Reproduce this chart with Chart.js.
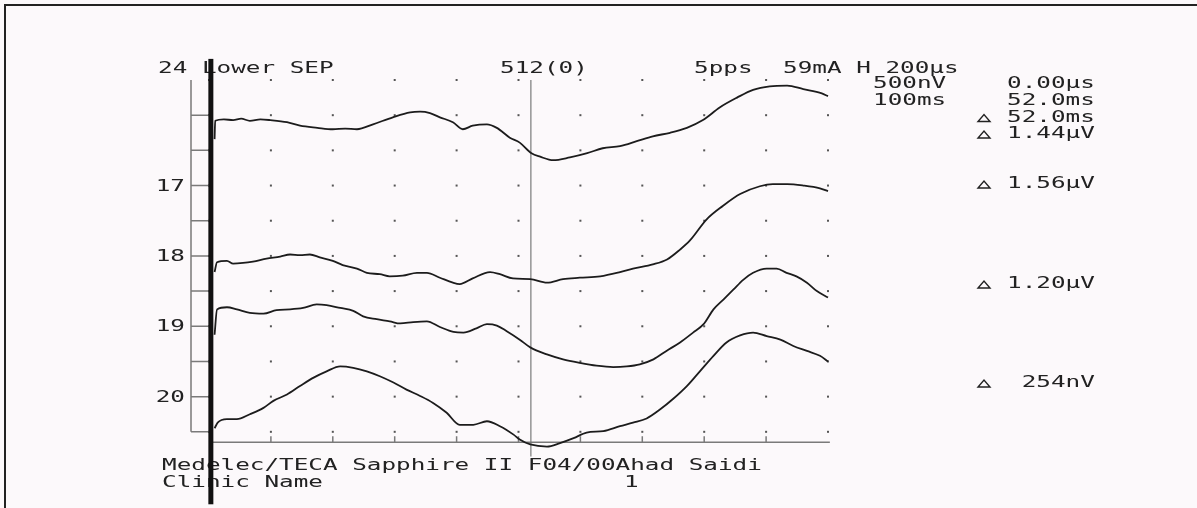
<!DOCTYPE html>
<html>
<head>
<meta charset="utf-8">
<title>24 Lower SEP</title>
<script src="https://cdn.jsdelivr.net/npm/chart.js@4.4.0/dist/chart.umd.min.js"></script>
<style>
html, body { margin: 0; padding: 0; background: #fcf9fb; }
#wrap { position: relative; width: 1197px; height: 508px; }
</style>
</head>
<body>
<div id="wrap"><canvas id="sepChart" width="1197" height="508"></canvas></div>
<script>
// Traces: [time in ms, trace position]
const trace1 = [[0.9,16.34],[1.0,16.08],[2.4,16.06],[3.9,16.07],[5.2,16.05],[6.6,16.08],[8.3,16.06],[9.9,16.07],[12.6,16.10],[14.7,16.15],[17.5,16.18],[20.0,16.20],[22.0,16.19],[23.9,16.20],[26.5,16.13],[29.7,16.03],[32.5,15.96],[34.1,15.95],[35.7,15.97],[37.3,16.03],[39.4,16.10],[41.0,16.20],[42.6,16.15],[44.9,16.13],[46.5,16.18],[48.6,16.32],[50.2,16.39],[52.1,16.54],[53.5,16.59],[55.6,16.64],[58.3,16.60],[61.1,16.54],[63.6,16.47],[66.4,16.44],[69.1,16.37],[71.7,16.30],[74.5,16.25],[77.2,16.18],[79.8,16.07],[82.5,15.89],[85.3,15.75],[87.9,15.64],[90.6,15.59],[93.4,15.58],[96.0,15.63],[99.0,15.69],[100,15.73]];
const trace2 = [[0.9,18.23],[1.3,18.09],[2.9,18.07],[3.9,18.11],[5.5,18.10],[7.1,18.08],[9.3,18.04],[11.5,18.01],[13.1,17.98],[14.7,17.99],[16.3,17.98],[17.9,18.02],[20.0,18.07],[21.6,18.13],[23.9,18.18],[25.5,18.24],[27.6,18.26],[29.2,18.29],[31.3,18.28],[33.6,18.24],[35.2,18.24],[37.3,18.31],[39.4,18.38],[40.5,18.40],[42.6,18.32],[45.4,18.23],[47.0,18.26],[49.1,18.32],[51.9,18.33],[54.6,18.38],[57.2,18.33],[59.9,18.31],[63.2,18.29],[66.4,18.23],[68.5,18.18],[71.7,18.12],[74.0,18.05],[76.1,17.91],[77.7,17.78],[80.4,17.48],[83.0,17.29],[85.8,17.12],[89.0,17.01],[91.1,16.98],[93.4,16.98],[96.0,17.00],[98.7,17.04],[100,17.08]];
const trace3 = [[0.9,19.12],[1.3,18.76],[2.9,18.73],[4.5,18.76],[6.6,18.81],[8.8,18.82],[10.9,18.77],[13.1,18.76],[15.2,18.74],[17.4,18.69],[19.0,18.70],[21.2,18.74],[23.3,18.78],[24.9,18.86],[27.1,18.90],[29.2,18.93],[30.9,18.96],[33.0,18.94],[35.2,18.93],[37.3,19.01],[39.5,19.08],[41.1,19.09],[43.2,19.03],[44.9,18.97],[46.5,18.99],[48.1,19.07],[50.2,19.19],[51.9,19.30],[54.6,19.40],[57.2,19.47],[59.9,19.52],[62.6,19.56],[65.3,19.58],[67.5,19.57],[69.6,19.54],[71.8,19.47],[73.9,19.35],[76.1,19.23],[78.2,19.09],[79.9,18.97],[81.5,18.76],[83.1,18.62],[84.7,18.48],[86.3,18.34],[87.9,18.24],[90.1,18.18],[91.7,18.18],[93.3,18.24],[94.9,18.29],[96.6,18.38],[98.2,18.50],[100,18.59]];
const trace4 = [[0.9,20.45],[1.4,20.37],[2.9,20.32],[4.5,20.32],[6.6,20.25],[8.8,20.16],[10.4,20.06],[12.6,19.97],[14.7,19.85],[16.9,19.73],[19.0,19.64],[21.2,19.57],[23.3,19.59],[25.5,19.64],[27.6,19.71],[29.8,19.80],[31.9,19.90],[34.1,19.99],[36.2,20.09],[38.4,20.23],[40.5,20.40],[42.7,20.40],[44.9,20.35],[47.0,20.42],[49.2,20.54],[50.2,20.61],[51.9,20.68],[54.6,20.71],[56.7,20.66],[58.9,20.59],[61.0,20.51],[63.7,20.49],[66.4,20.42],[68.5,20.37],[70.7,20.31],[72.9,20.18],[75.0,20.03],[77.2,19.85],[79.3,19.64],[81.5,19.42],[83.6,19.23],[85.8,19.13],[87.9,19.09],[90.1,19.14],[92.3,19.19],[94.4,19.28],[96.6,19.35],[98.7,19.42],[100,19.50]];

const yTickValues = [17, 18, 19, 20];
const yTickLabels = ['17', '18', '19', '20'];
const cursorMs = 52.0;
const baselineAxis = 20.65;

const headerLabels = ['24 Lower SEP', '512(0)', '5pps', '59mA H 200µs'];
const settingLabels = ['500nV', '100ms'];
const cursorLabels = ['0.00µs', '52.0ms', '52.0ms', '1.44µV', '1.56µV', '1.20µV', ' 254nV'];
const footerLabels = ['Medelec/TECA Sapphire II F04/00Ahad Saidi', 'Clinic Name', '1'];

const FONT = "15px 'DejaVu Sans Mono', 'Liberation Mono', monospace";
const STRETCH = 1.62;

function wideText(ctx, str, x, y, alignRight) {
    ctx.save();
    ctx.font = FONT;
    let w = ctx.measureText(str).width * STRETCH;
    ctx.translate(alignRight ? x - w : x, y);
    ctx.scale(STRETCH, 1);
    ctx.fillText(str, 0, 0);
    ctx.restore();
}

function triangle(ctx, x, y) {
    ctx.beginPath();
    ctx.moveTo(x, y);
    ctx.lineTo(x + 12, y);
    ctx.lineTo(x + 6, y - 7);
    ctx.closePath();
    ctx.stroke();
}

const printoutPlugin = {
    id: 'printout',
    beforeDatasetsDraw(chart) {
        const ctx = chart.ctx;
        const xs = chart.scales.x, ys = chart.scales.y;
        const x0 = xs.getPixelForValue(0);
        ctx.save();

        // page frame
        ctx.fillStyle = '#222';
        ctx.fillRect(4, 4, 1193, 2);
        ctx.fillRect(4, 4, 2, 504);

        // grid dots
        ctx.fillStyle = '#555';
        for (let t = 0; t <= 100; t += 10) {
            for (let v = 15.5; v <= 20.5; v += 0.5) {
                ctx.fillRect(xs.getPixelForValue(t) - 1, ys.getPixelForValue(v) - 1, 2, 2);
            }
        }

        // left axis with half-step ticks
        ctx.strokeStyle = '#7a7a7a';
        ctx.lineWidth = 1.5;
        const axX = x0 - 18;
        ctx.beginPath();
        ctx.moveTo(axX, ys.getPixelForValue(15.5));
        ctx.lineTo(axX, ys.getPixelForValue(20.5));
        for (let v = 16; v <= 20.5; v += 0.5) {
            const py = ys.getPixelForValue(v);
            ctx.moveTo(axX, py);
            ctx.lineTo(x0, py);
        }
        ctx.stroke();

        // baseline axis with ticks every 10 ms
        const by = ys.getPixelForValue(baselineAxis);
        ctx.beginPath();
        ctx.moveTo(x0, by);
        ctx.lineTo(xs.getPixelForValue(100.3), by);
        for (let t = 10; t <= 90; t += 10) {
            const px = xs.getPixelForValue(t);
            ctx.moveTo(px, by);
            ctx.lineTo(px, by - 6);
        }
        ctx.stroke();

        // cursor
        ctx.lineWidth = 1.2;
        ctx.beginPath();
        const cx = xs.getPixelForValue(cursorMs);
        ctx.moveTo(cx, ys.getPixelForValue(15.5));
        ctx.lineTo(cx, ys.getPixelForValue(20.85));
        ctx.stroke();

        // y labels
        ctx.fillStyle = '#222';
        yTickValues.forEach((v, i) => {
            wideText(ctx, yTickLabels[i], x0 - 24, ys.getPixelForValue(v) + 5, true);
        });
        ctx.restore();
    },
    afterDatasetsDraw(chart) {
        const ctx = chart.ctx;
        const xs = chart.scales.x, ys = chart.scales.y;
        ctx.save();
        ctx.fillStyle = '#222';

        // header
        const hx = [158, 500, 694, 783];
        headerLabels.forEach((s, i) => wideText(ctx, s, hx[i], 73));
        wideText(ctx, settingLabels[0], 873, 88);
        wideText(ctx, settingLabels[1], 873, 105);

        // cursor readouts
        const cyy = [88, 105, 121.5, 138, 188, 288, 387];
        ctx.strokeStyle = '#222';
        ctx.lineWidth = 1.4;
        cursorLabels.forEach((s, i) => {
            wideText(ctx, s, 1007, cyy[i]);
            if (i >= 2) triangle(ctx, 978, cyy[i]);
        });

        // footer
        wideText(ctx, footerLabels[0], 162, 470);
        wideText(ctx, footerLabels[1], 162, 486.5);
        wideText(ctx, footerLabels[2], 624, 486.5);

        // stimulus marker
        ctx.fillStyle = '#111';
        const mx = xs.getPixelForValue(0.3);
        ctx.fillRect(mx - 2.5, ys.getPixelForValue(15.2), 5, ys.getPixelForValue(21.53) - ys.getPixelForValue(15.2));
        ctx.restore();
    }
};

function traceDataset(points) {
    return {
        data: points.map(p => ({ x: p[0], y: p[1] })),
        showLine: true,
        borderColor: '#1c1c1c',
        borderWidth: 1.8,
        pointRadius: 0,
        cubicInterpolationMode: 'monotone',
        clip: false
    };
}

new Chart(document.getElementById('sepChart'), {
    type: 'scatter',
    data: {
        datasets: [traceDataset(trace1), traceDataset(trace2), traceDataset(trace3), traceDataset(trace4)]
    },
    options: {
        responsive: false,
        animation: false,
        layout: { padding: { left: 209, right: 369, top: 80, bottom: 41 } },
        plugins: { legend: { display: false }, tooltip: { enabled: false } },
        scales: {
            x: { type: 'linear', min: 0, max: 100, display: false },
            y: { type: 'linear', min: 15.5, max: 21, reverse: true, display: false }
        }
    },
    plugins: [printoutPlugin]
});
</script>
</body>
</html>
